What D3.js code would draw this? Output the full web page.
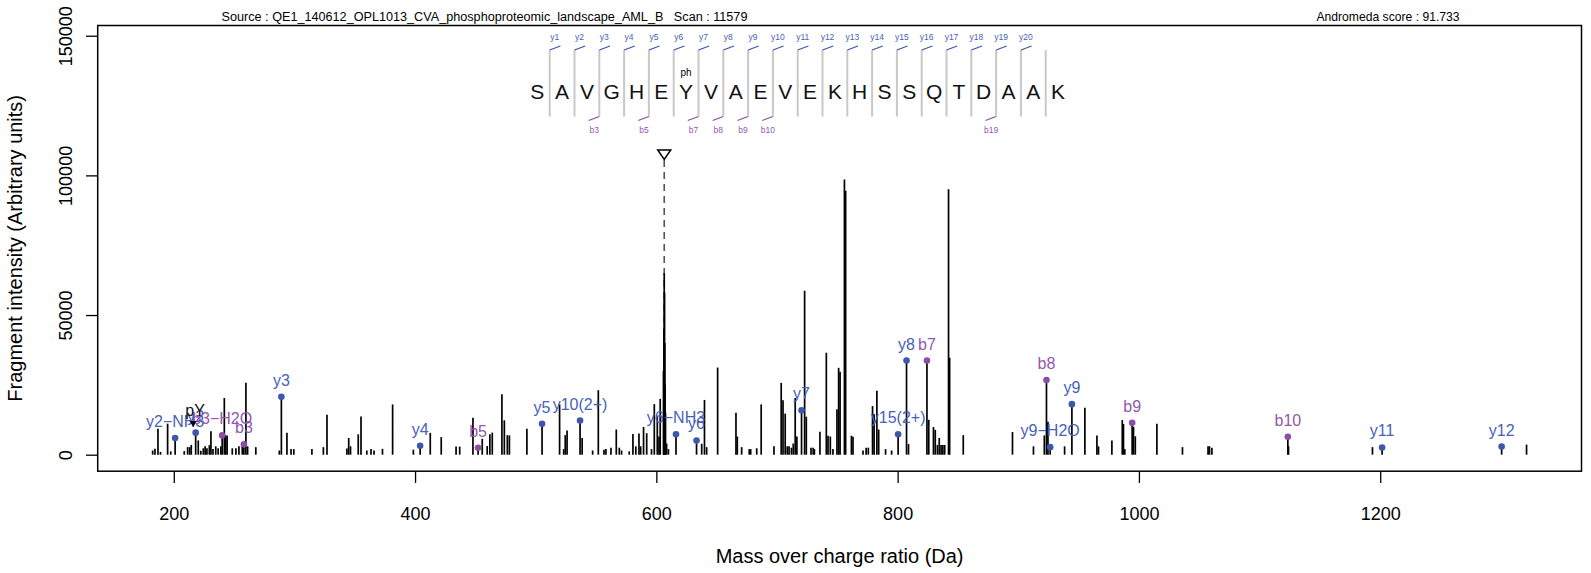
<!DOCTYPE html>
<html>
<head>
<meta charset="utf-8">
<script src="https://cdn.jsdelivr.net/npm/d3@7"></script>
<style>
    body { margin: 0; background: #ffffff; }
    svg text { font-family: "Liberation Sans", Arial, Helvetica, sans-serif; }
</style>
</head>
<body>
<svg id="chart" width="1591" height="573"></svg>
<script>
// unannotated fragment peaks (m/z, intensity)
const peakMz = [
    182.5, 184.4, 186.9, 189.0, 194.9, 197.5, 208.7, 211.5, 213.2, 214.5, 220.3, 222.4, 224.5, 226.0,
    227.5, 229.5, 230.8, 232.5, 234.8, 236.8, 239.0, 241.9, 243.0, 244.2, 248.5, 251.5, 254.0, 256.8,
    259.8, 261.2, 268.0, 287.5, 293.8, 297.2, 299.5, 314.5, 324.0, 327.0, 343.5, 345.0, 346.5, 352.9,
    355.2, 360.0, 363.5, 366.0, 373.0, 381.4, 398.6, 412.6, 421.7, 434.0, 437.0, 448.0, 455.7, 459.8,
    462.0, 464.0, 472.0, 474.0, 476.5, 478.2, 492.7, 519.8, 523.2, 524.5, 526.0, 538.5, 547.2, 551.9,
    556.6, 558.2, 562.4, 566.8, 569.3, 571.2, 577.5, 580.6, 583.0, 585.6, 587.0, 589.4, 592.0, 596.0,
    598.3, 600.8, 602.2, 603.2, 605.9, 606.28, 606.53, 606.78, 607.03, 607.28, 607.6, 608.5, 610.0,
    637.6, 639.9, 641.7, 650.8, 666.0, 667.1, 670.7, 677.0, 678.2, 683.2, 686.9, 697.5, 703.5, 705.0,
    706.8, 708.5, 710.0, 712.0, 713.5, 715.1, 716.5, 722.9, 724.3, 728.2, 730.0, 731.0, 735.6, 740.9,
    742.3, 744.2, 746.4, 749.7, 751.1, 752.3, 755.9, 756.9, 761.7, 763.0, 771.3, 773.9, 775.7, 779.2,
    780.5, 782.8, 784.3, 790.0, 795.0, 809.0, 825.8, 829.7, 831.2, 833.0, 834.5, 836.0, 837.5, 839.0,
    842.2, 843.1, 854.4, 895.2, 912.6, 921.6, 924.6, 938.4, 955.2, 965.2, 966.5, 977.6, 986.2, 987.2,
    988.3, 995.5, 997.0, 1014.9, 1036.1, 1057.3, 1058.5, 1060.5, 1124.0, 1193.6, 1321.3
];
const peakIntensity = [
    1500, 2100, 9300, 1000, 11100, 1200, 1300, 2700, 2700, 3500, 5100, 1400, 2300, 3000,
    2300, 3400, 8400, 2000, 3000, 2300, 3000, 20300, 6900, 6900, 2300, 2300, 3000, 3500,
    25800, 3000, 2700, 1500, 7900, 2000, 2000, 2000, 2700, 14300, 2200, 6000, 3000, 7300,
    13700, 1500, 2000, 1500, 2100, 18000, 1800, 7800, 6300, 2900, 2900, 13200, 5700, 3100,
    7300, 7900, 21600, 12300, 7000, 6900, 9300, 18000, 2000, 7000, 8700, 6000, 1500, 23100,
    1800, 2000, 2500, 9000, 2500, 1500, 1200, 7400, 3000, 7600, 3000, 9900, 7700, 2000,
    18100, 14000, 6500, 20000, 30000, 45000, 65000, 58000, 40000, 25000, 15000, 4000, 2000,
    3900, 19600, 2700, 31200, 15000, 6500, 2700, 2000, 2000, 2300, 18000, 3000, 25700, 19500,
    14700, 3000, 3000, 2500, 4000, 20300, 6500, 58700, 13600, 2500, 2500, 2000, 8200, 36500,
    6800, 6500, 2000, 16300, 31100, 29700, 98500, 94500, 6800, 6400, 1500, 2500, 2500, 17400,
    14500, 22900, 9000, 2000, 1500, 3800, 12500, 9900, 8900, 3500, 6000, 3500, 3500, 3500,
    95000, 34700, 7000, 8100, 3000, 6900, 11800, 3000, 16800, 6900, 3000, 5100, 12400, 11000,
    2000, 10000, 6600, 11100, 2700, 3000, 3000, 2500, 3000, 2700, 3600
];

// annotated fragment ions
const ionLabels = ["y2\u2212NH3", "y2", "b3\u2212H2O", "b3", "y3", "y4", "b5", "y5", "y10(2+)", "y6\u2212NH3", "y6",
    "y7", "y15(2+)", "y8", "b7", "b8", "y9\u2212H2O", "y9", "b9", "b10", "y11", "y12"];
const ionMz = [201.12, 218.15, 240.13, 258.14, 289.19, 404.21, 452.23, 505.26, 536.77, 616.29, 633.32,
    720.35, 800.40, 807.38, 824.30, 923.37, 926.43, 944.44, 994.40, 1123.45, 1201.58, 1300.65];
const ionIntensity = [6000, 7900, 6900, 3700, 20700, 3200, 2500, 11100, 12200, 7300, 5100,
    15900, 7300, 33700, 33700, 26700, 2700, 18100, 11400, 6400, 2600, 2900];
const ionSeries = ["y", "y", "b", "b", "y", "y", "b", "y", "y", "y", "y",
    "y", "y", "y", "b", "b", "y", "y", "b", "b", "y", "y"];

// phospho-tyrosine immonium ion and precursor
const immoniumLabel = "pY";
const immoniumMz = 216.04;
const immoniumIntensity = 10600;
const precursorMz = 606.53;

// peptide sequence and the fragment marks drawn on it
const sequence = ["S", "A", "V", "G", "H", "E", "Y", "V", "A", "E", "V", "E", "K", "H", "S", "S", "Q", "T", "D", "A", "A", "K"];
const modLabel = "ph";
const modPosition = 6;
const yMarks = [1, 2, 3, 4, 5, 6, 7, 8, 9, 10, 11, 12, 13, 14, 15, 16, 17, 18, 19, 20];
const bMarks = [3, 5, 7, 8, 9, 10, 19];

const xTicks = [200, 400, 600, 800, 1000, 1200];
const yTicks = [0, 50000, 100000, 150000];

const headerLeft = "Source : QE1_140612_OPL1013_CVA_phosphoproteomic_landscape_AML_B   Scan : 11579";
const headerRight = "Andromeda score : 91.733";

const yColor = "#3c57ad";
const bColor = "#8a4ea6";

const svg = d3.select("#chart");
const box = { left: 97.7, right: 1581.5, top: 25.5, bottom: 471.2 };

// R-style axis ranges: 4% padding, y limit 1.5 x highest peak
const allMz = peakMz.concat(ionMz);
const [mzMin, mzMax] = d3.extent(allMz);
const xPad = 0.04 * (mzMax - mzMin);
const x = d3.scaleLinear()
    .domain([mzMin - xPad, mzMax + xPad])
    .range([box.left, box.right]);

const yMax = 1.5 * d3.max(peakIntensity.concat(ionIntensity));
const y = d3.scaleLinear()
    .domain([-0.04 * yMax, 1.04 * yMax])
    .range([box.bottom, box.top]);

// precursor: dashed line with open triangle on top
const px = x(precursorMz);
svg.append("line")
    .attr("x1", px).attr("x2", px)
    .attr("y1", 160).attr("y2", y(0))
    .attr("stroke", "#555555")
    .attr("stroke-width", 1.6)
    .attr("stroke-dasharray", "7,5");
svg.append("path")
    .attr("d", `M${px - 6.5},${150} L${px + 6.5},${150} L${px},${159.5} Z`)
    .attr("fill", "white")
    .attr("stroke", "black")
    .attr("stroke-width", 1.5);

// spectrum peaks
svg.append("g").selectAll("line")
    .data(d3.zip(allMz, peakIntensity.concat(ionIntensity)))
    .join("line")
    .attr("x1", d => x(d[0])).attr("x2", d => x(d[0]))
    .attr("y1", y(0)).attr("y2", d => y(d[1]))
    .attr("stroke", "black")
    .attr("stroke-width", 1.7);

// annotated ions: dot + label
const ions = ionLabels.map((label, i) => ({ label, mz: ionMz[i], value: ionIntensity[i], series: ionSeries[i] }));
const ionGroups = svg.append("g").selectAll("g")
    .data(ions)
    .join("g")
    .attr("transform", d => `translate(${x(d.mz)},${y(d.value)})`);
ionGroups.append("circle")
    .attr("r", 3.3)
    .attr("fill", d => d.series === "y" ? yColor : bColor);
ionGroups.append("text")
    .text(d => d.label)
    .attr("y", -11)
    .attr("text-anchor", "middle")
    .style("font-size", "16px")
    .style("fill", d => d.series === "y" ? "#4762b8" : "#9158ad");

// pY immonium marker
const imX = x(immoniumMz), imY = y(immoniumIntensity);
svg.append("path")
    .attr("d", `M${imX - 3.5},${imY - 4} L${imX + 3.5},${imY - 4} L${imX},${imY + 2} Z`)
    .attr("fill", "black");
svg.append("text")
    .text(immoniumLabel)
    .attr("x", imX + 2)
    .attr("y", imY - 9)
    .attr("text-anchor", "middle")
    .style("font-size", "16px")
    .style("fill", "#111");

// peptide sequence diagram
const seqX0 = 537.3, seqStep = 24.8;
const seqTop = 50, seqBottom = 116.5;
const seqG = svg.append("g");
seqG.selectAll("line.sep")
    .data(d3.range(1, sequence.length))
    .join("line")
    .attr("class", "sep")
    .attr("x1", i => seqX0 + (i - 0.5) * seqStep).attr("x2", i => seqX0 + (i - 0.5) * seqStep)
    .attr("y1", seqTop).attr("y2", seqBottom)
    .attr("stroke", "#c8c8c8")
    .attr("stroke-width", 2);
seqG.selectAll("text.aa")
    .data(sequence)
    .join("text")
    .attr("class", "aa")
    .text(d => d)
    .attr("x", (d, i) => seqX0 + i * seqStep)
    .attr("y", 99)
    .attr("text-anchor", "middle")
    .style("font-size", "21px")
    .style("fill", "#111");
seqG.append("text")
    .text(modLabel)
    .attr("x", seqX0 + modPosition * seqStep)
    .attr("y", 76)
    .attr("text-anchor", "middle")
    .style("font-size", "10px");

// y marks hook up-right, b marks hook down-left
seqG.selectAll("line.ym")
    .data(yMarks)
    .join("line")
    .attr("class", "ym")
    .attr("x1", k => seqX0 + (k - 0.5) * seqStep).attr("y1", seqTop)
    .attr("x2", k => seqX0 + (k - 0.5) * seqStep + 10.7).attr("y2", seqTop - 4)
    .attr("stroke", yColor).attr("stroke-width", 1.3);
seqG.selectAll("text.yl")
    .data(yMarks)
    .join("text")
    .attr("class", "yl")
    .text(k => "y" + k)
    .attr("x", k => seqX0 + (k - 0.5) * seqStep + 5)
    .attr("y", 40)
    .attr("text-anchor", "middle")
    .style("font-size", "8.5px")
    .style("fill", "#4762b8");
seqG.selectAll("line.bm")
    .data(bMarks)
    .join("line")
    .attr("class", "bm")
    .attr("x1", k => seqX0 + (k - 0.5) * seqStep).attr("y1", seqBottom)
    .attr("x2", k => seqX0 + (k - 0.5) * seqStep - 10.7).attr("y2", seqBottom + 4)
    .attr("stroke", bColor).attr("stroke-width", 1.3);
seqG.selectAll("text.bl")
    .data(bMarks)
    .join("text")
    .attr("class", "bl")
    .text(k => "b" + k)
    .attr("x", k => seqX0 + (k - 0.5) * seqStep - 5)
    .attr("y", 132.5)
    .attr("text-anchor", "middle")
    .style("font-size", "8.5px")
    .style("fill", "#9158ad");

// axes
const xAxis = svg.append("g")
    .attr("transform", `translate(0,${box.bottom})`)
    .call(d3.axisBottom(x).tickValues(xTicks).tickSize(11.7).tickFormat(d3.format("d")));
xAxis.select(".domain").remove();
xAxis.selectAll("line").attr("stroke", "black").attr("stroke-width", 1.3);
xAxis.selectAll("text")
    .attr("y", 49).attr("dy", 0)
    .style("font-size", "18px")
    .style("fill", "black");

const yAxis = svg.append("g")
    .attr("transform", `translate(${box.left},0)`)
    .call(d3.axisLeft(y).tickValues(yTicks).tickSize(11.7).tickFormat(d3.format("d")));
yAxis.select(".domain").remove();
yAxis.selectAll("line").attr("stroke", "black").attr("stroke-width", 1.3);
yAxis.selectAll("text")
    .attr("transform", "rotate(-90)")
    .attr("x", 0).attr("y", -25.7).attr("dy", 0)
    .attr("text-anchor", "middle")
    .style("font-size", "18px")
    .style("fill", "black");

// plot box
svg.append("rect")
    .attr("x", box.left).attr("y", box.top)
    .attr("width", box.right - box.left).attr("height", box.bottom - box.top)
    .attr("fill", "none")
    .attr("stroke", "black")
    .attr("stroke-width", 1.5);

// titles
svg.append("text")
    .text("Mass over charge ratio (Da)")
    .attr("x", (box.left + box.right) / 2)
    .attr("y", 563)
    .attr("text-anchor", "middle")
    .style("font-size", "20px");
svg.append("text")
    .text("Fragment intensity (Arbitrary units)")
    .attr("transform", `translate(22,${(box.top + box.bottom) / 2}) rotate(-90)`)
    .attr("text-anchor", "middle")
    .style("font-size", "20px");
svg.append("text")
    .text(headerLeft)
    .attr("x", 484.5)
    .attr("y", 20.7)
    .attr("text-anchor", "middle")
    .style("font-size", "12.65px")
    .style("white-space", "pre");
svg.append("text")
    .text(headerRight)
    .attr("x", 1388)
    .attr("y", 20.7)
    .attr("text-anchor", "middle")
    .style("font-size", "12.15px");
</script>
</body>
</html>
